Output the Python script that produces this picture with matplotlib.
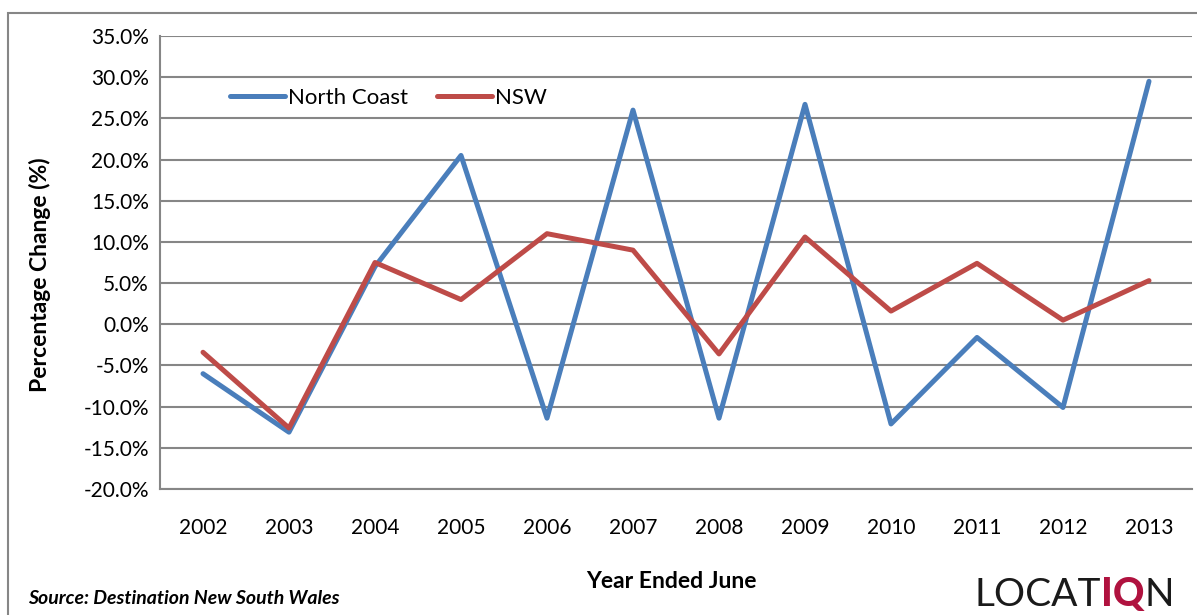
import matplotlib.pyplot as plt
from matplotlib.patches import Rectangle
from matplotlib.ticker import FuncFormatter

years = ["2002", "2003", "2004", "2005", "2006", "2007", "2008", "2009", "2010", "2011", "2012", "2013"]
north_coast = [-6.0, -13.1, 7.0, 20.5, -11.4, 26.0, -11.4, 26.7, -12.1, -1.6, -10.1, 29.5]
nsw = [-3.4, -12.6, 7.5, 3.0, 11.0, 9.0, -3.6, 10.6, 1.6, 7.4, 0.5, 5.3]

plt.rcParams['font.family'] = ['Lato', 'DejaVu Sans']
grid_col = "#868686"

fig = plt.figure(figsize=(11.97, 6.15), dpi=100)
fig.patches.append(Rectangle((8 / 1197, -0.1), 1.2, 1 - 13 / 615 + 0.1, transform=fig.transFigure,
                             fill=False, edgecolor=grid_col, linewidth=1.5))

ax = fig.add_axes([160 / 1197, 1 - 489 / 615, 1032 / 1197, 453 / 615])
x = range(len(years))
ax.plot(x, north_coast, color="#4a7ebb", linewidth=3.6, label="North Coast", solid_capstyle="round")
ax.plot(x, nsw, color="#be4b48", linewidth=3.6, label="NSW", solid_capstyle="round")

ax.set_xlim(-0.5, len(years) - 0.5)
ax.set_ylim(-20, 35)
ax.set_yticks(range(-20, 36, 5))
ax.yaxis.set_major_formatter(FuncFormatter(lambda v, p: f"{v:.1f}%"))
ax.set_xticks(list(x))
ax.set_xticklabels(years)
ax.tick_params(length=0, labelsize=15, pad=8)
ax.tick_params(axis='x', pad=21)
ax.grid(axis='y', color=grid_col, linewidth=1.5)
ax.set_axisbelow(True)
for s in ["top", "right"]:
    ax.spines[s].set_visible(False)
for s in ["left", "bottom"]:
    ax.spines[s].set_color(grid_col)
    ax.spines[s].set_linewidth(1.5)

ax.legend(loc="center left", bbox_to_anchor=(0.068, 0.863), ncol=2, frameon=False, fontsize=16,
          handlelength=2.48, handletextpad=0.12, columnspacing=1.3, borderpad=0, borderaxespad=0)

fig.text(40 / 1197, 1 - 275 / 615, "Percentage Change (%)", rotation=90, ha="center", va="center",
         fontsize=16.5, fontweight="bold")
fig.text(671 / 1197, 1 - 582 / 615, "Year Ended June", ha="center", va="center",
         fontsize=16.5, fontweight="bold")
fig.text(28 / 1197, 1 - 598 / 615, "Source: Destination New South Wales", ha="left", va="center",
         fontsize=14, fontweight="bold", fontstyle="italic")

t1 = fig.text(975 / 1197, 1 - 606 / 615, "LOCAT", ha="left", va="baseline",
              fontsize=28, fontweight="normal", color="#1a1a1a")
t2 = ax.annotate("IQ", xy=(1, 0), xycoords=t1, ha="left", va="bottom",
                 fontsize=28, fontweight="black", color="#b0123f")
ax.annotate("N", xy=(1, 0), xycoords=t2, ha="left", va="bottom",
            fontsize=28, fontweight="normal", color="#1a1a1a")

fig.savefig("out.png", dpi=100)
